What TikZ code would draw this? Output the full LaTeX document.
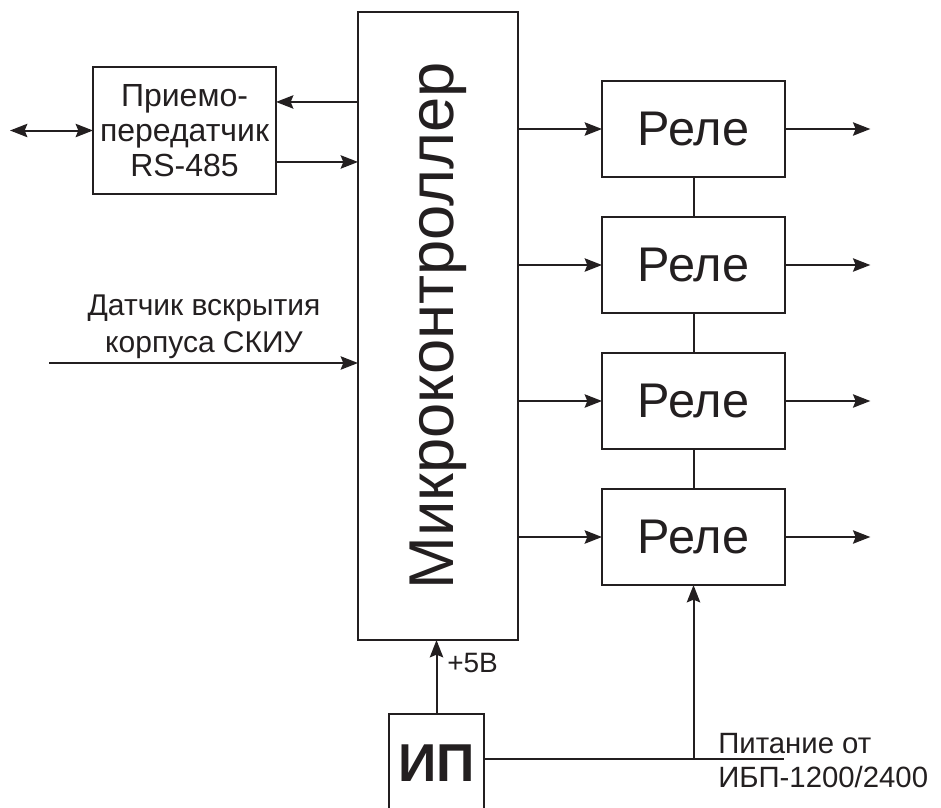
\documentclass[tikz,border=0pt]{standalone}
\usepackage{fontspec}
\setmainfont{Liberation Sans}
\usepackage{xcolor}
\definecolor{cLine}{HTML}{231F20}
\usepackage{tikz}
\usetikzlibrary{positioning,arrows.meta,calc}
\tikzset{
  node-box/.style={draw=cLine,line width=1.6pt,inner sep=0pt,outer sep=0pt,
    align=center,text=cLine},
  node-relay/.style={node-box,minimum width=137.25pt,minimum height=72pt,
    font=\fontsize{36.5}{40}\selectfont},
  node-label/.style={inner sep=0pt,text=cLine},
  link/.style={line width=1.5pt,draw=cLine},
  arrow/.style={-{Stealth[length=13pt,width=10pt,inset=2pt]},line width=1.5pt,draw=cLine},
  arrow-both/.style={{Stealth[length=13pt,width=10pt,inset=2pt]}-{Stealth[length=13pt,width=10pt,inset=2pt]},
    line width=1.5pt,draw=cLine},
}

\begin{document}
\begin{tikzpicture}[x=0.75pt,y=-0.75pt]
  \clip (0,0) rectangle (941,807);

  % blocks
  \node[node-box,minimum width=120pt,minimum height=471pt] (mc) at (438,326)
    {\rotatebox{90}{\fontsize{47.5}{50}\selectfont Микроконтроллер}};
  \node[node-box,minimum width=137.25pt,minimum height=95.25pt,
    font=\fontsize{24}{26.25}\selectfont] (trx) at (184.5,130.5)
    {Приемо-\\передатчик\\RS-485};
  \node[node-relay] (r1) at (693.5,129) {Реле};
  \node[node-relay] (r2) at (693.5,265) {Реле};
  \node[node-relay] (r3) at (693.5,401) {Реле};
  \node[node-relay] (r4) at (693.5,537) {Реле};
  \node[node-box,minimum width=71.25pt,minimum height=73.5pt,
    font=\fontsize{40}{44}\selectfont\bfseries] (ip) at (436.5,763) {ИП};

  % RS-485 side
  \coordinate (bus) at (10,130.5);
  \coordinate (trx-in) at ([yshift=21.4pt]trx.east);
  \coordinate (trx-out) at ([yshift=-23.6pt]trx.east);
  \draw[arrow-both] (bus) -- (trx.west);
  \draw[arrow] (trx-in -| mc.west) -- (trx-in);
  \draw[arrow] (trx-out) -- (trx-out -| mc.west);

  % case sensor
  \coordinate (sensor) at (49,363);
  \draw[arrow] (sensor) -- (sensor -| mc.west);
  \node[node-label,anchor=north,align=center,font=\fontsize{22.5}{27.75}\selectfont]
    (sensor-txt) at (204,295) {Датчик вскрытия\\корпуса СКИУ};

  % relays
  \foreach \r in {r1,r2,r3,r4} {
    \coordinate (\r-out) at ([xshift=64pt]\r.east);
    \draw[arrow] (mc.east |- \r.west) -- (\r.west);
    \draw[arrow] (\r.east) -- (\r-out);
  }
  \draw[link] (r1.south) -- (r2.north);
  \draw[link] (r2.south) -- (r3.north);
  \draw[link] (r3.south) -- (r4.north);

  % power supply
  \draw[arrow] (ip.north) -- (ip.north |- mc.south);
  \node[node-label,anchor=west,font=\fontsize{21}{23}\selectfont]
    (v5) at (447,663) {+5В};
  \coordinate (pwr-end) at (784,759);
  \draw[link] (ip.east |- pwr-end) -- (pwr-end);
  \draw[arrow] (r4.south |- pwr-end) -- (r4.south);
  \node[node-label,anchor=north west,align=left,font=\fontsize{22}{25.5}\selectfont]
    (pwr-txt) at (718,733) {Питание от\\ИБП-1200/2400};
\end{tikzpicture}
\end{document}
